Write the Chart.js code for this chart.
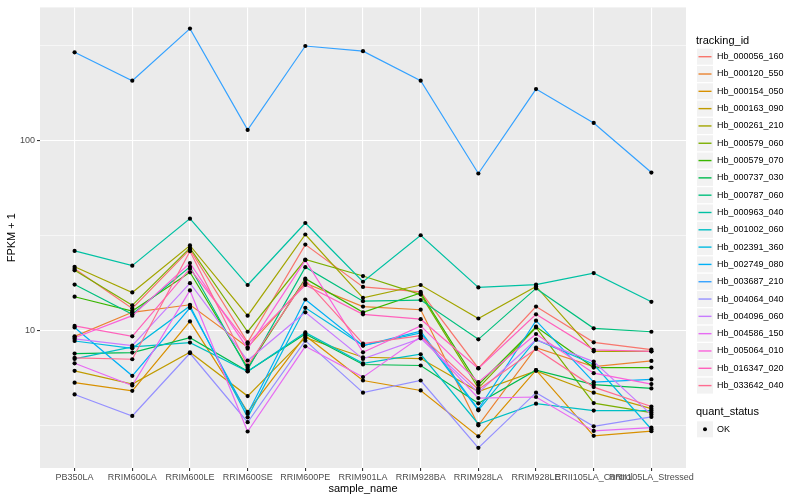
<!DOCTYPE html>
<html>
<head>
<meta charset="utf-8">
<script src="https://cdn.jsdelivr.net/npm/chart.js@4.4.1/dist/chart.umd.min.js"></script>
<style>
  html, body { margin: 0; padding: 0; background: #fff; }
  #wrap { width: 800px; height: 500px; }
</style>
</head>
<body>
<div id="wrap"><canvas id="chart" width="800" height="500"></canvas></div>
<script>
// Categories (x axis)
const sampleNames = ['PB350LA', 'RRIM600LA', 'RRIM600LE', 'RRIM600SE', 'RRIM600PE', 'RRIM901LA',
    'RRIM928BA', 'RRIM928LA', 'RRIM928LE', 'RRII105LA_Control', 'RRII105LA_Stressed'];

const trackingIds = ['Hb_000056_160', 'Hb_000120_550', 'Hb_000154_050', 'Hb_000163_090', 'Hb_000261_210',
    'Hb_000579_060', 'Hb_000579_070', 'Hb_000737_030', 'Hb_000787_060', 'Hb_000963_040',
    'Hb_001002_060', 'Hb_002391_360', 'Hb_002749_080', 'Hb_003687_210', 'Hb_004064_040',
    'Hb_004096_060', 'Hb_004586_150', 'Hb_005064_010', 'Hb_016347_020', 'Hb_033642_040'];

// FPKM + 1, one value per sample
const hb000056_160 = [21.2, 13.1, 26.8, 8.69, 28.4, 17.0, 16.0, 6.35, 13.4, 8.69, 7.96];
const hb000120_550 = [9.34, 12.5, 13.7, 8.18, 17.8, 13.4, 12.9, 3.18, 8.15, 6.48, 6.94];
const hb000154_050 = [5.33, 4.83, 11.2, 3.74, 9.42, 5.47, 4.85, 2.78, 6.20, 2.80, 2.96];
const hb000163_090 = [6.15, 5.24, 7.70, 4.53, 9.19, 7.25, 7.14, 4.79, 6.15, 4.72, 3.89];
const hb000261_210 = [21.7, 15.9, 28.1, 12.0, 32.1, 14.9, 17.4, 11.6, 17.1, 7.79, 7.79];
const hb000579_060 = [20.8, 13.6, 27.3, 9.88, 23.7, 19.4, 15.5, 4.99, 10.4, 4.16, 3.71];
const hb000579_070 = [15.1, 12.7, 20.3, 6.38, 18.8, 12.5, 15.8, 5.20, 10.5, 6.40, 6.40];
const hb000737_030 = [7.58, 7.67, 9.19, 6.12, 9.61, 6.64, 6.56, 4.15, 6.20, 5.20, 4.97];
const hb000787_060 = [17.5, 12.2, 21.7, 6.25, 21.6, 14.3, 14.5, 9.01, 16.7, 10.3, 9.88];
const hb000963_040 = [26.3, 22.0, 38.9, 17.4, 36.9, 18.1, 31.8, 16.9, 17.5, 20.1, 14.2];
const hb001002_060 = [7.11, 8.22, 8.66, 6.10, 9.80, 6.74, 7.52, 3.23, 4.13, 3.80, 3.80];
const hb002391_360 = [8.83, 8.08, 13.5, 3.50, 13.2, 8.35, 9.73, 3.81, 8.97, 6.66, 3.03];
const hb002749_080 = [10.4, 5.79, 13.2, 3.66, 14.6, 8.35, 9.96, 3.86, 11.3, 5.36, 5.54];
const hb003687_210 = [292, 207, 389, 114, 315, 296, 207, 67.2, 187, 124, 68.0];
const hb004064_040 = [4.62, 3.56, 7.61, 3.30, 8.87, 4.72, 5.47, 2.42, 4.72, 3.14, 3.52];
const hb004096_060 = [9.05, 8.35, 17.8, 6.97, 12.5, 7.11, 9.12, 4.72, 8.97, 6.88, 3.62];
const hb004586_150 = [6.74, 5.15, 16.3, 2.95, 8.28, 5.70, 9.30, 4.42, 4.48, 2.97, 3.09];
const hb005064_010 = [9.19, 12.0, 22.7, 8.05, 23.5, 7.70, 10.6, 5.36, 9.61, 5.98, 5.24];
const hb016347_020 = [10.6, 9.34, 21.2, 8.55, 17.4, 12.2, 11.5, 6.33, 12.2, 7.93, 7.79];
const hb033642_040 = [7.20, 7.08, 26.2, 6.56, 18.5, 8.55, 9.42, 4.91, 8.02, 5.05, 3.99];

const seriesValues = [hb000056_160, hb000120_550, hb000154_050, hb000163_090, hb000261_210,
    hb000579_060, hb000579_070, hb000737_030, hb000787_060, hb000963_040,
    hb001002_060, hb002391_360, hb002749_080, hb003687_210, hb004064_040,
    hb004096_060, hb004586_150, hb005064_010, hb016347_020, hb033642_040];

// y axis: labelled breaks and the minor grid breaks (log10 midpoints)
const yMajorTicks = [10, 100];
const yTickLabels = ['10', '100'];
const yMinorTicks = [3.1623, 31.623, 316.23];

const quantStatus = ['OK'];

// ggplot default hue palette, 20 levels
const seriesColors = ['#F8766D', '#EA8331', '#D89000', '#C09B00', '#A3A500', '#7CAE00', '#39B600',
    '#00BB4E', '#00BF7D', '#00C1A3', '#00BFC4', '#00BAE0', '#00B0F6', '#35A2FF', '#9590FF',
    '#C77CFF', '#E76BF3', '#FA62DB', '#FF62BC', '#FF6C91'];

const FONT = '"Liberation Sans", Arial, Helvetica, sans-serif';

/**
 * Grey panel background, axis titles and the ggplot style legend
 */
const ggTheme = {
    id: 'ggTheme',
    beforeDraw(chart) {
        const { ctx, chartArea: a } = chart;
        ctx.save();
        ctx.fillStyle = '#ffffff';
        ctx.fillRect(0, 0, chart.width, chart.height);
        ctx.fillStyle = '#EBEBEB';
        ctx.fillRect(a.left, a.top, a.right - a.left, a.bottom - a.top);
        ctx.restore();
    },
    afterDraw(chart) {
        const { ctx, chartArea: a } = chart;
        ctx.save();
        ctx.fillStyle = '#000';
        ctx.textBaseline = 'middle';

        // axis titles
        ctx.font = '11px ' + FONT;
        ctx.textAlign = 'center';
        ctx.fillText('sample_name', (a.left + a.right) / 2, 489);
        ctx.save();
        ctx.translate(12, (a.top + a.bottom) / 2);
        ctx.rotate(-Math.PI / 2);
        ctx.fillText('FPKM + 1', 0, 0);
        ctx.restore();

        // legend: tracking_id
        const lx = 697;
        const step = 17.31;
        ctx.textAlign = 'left';
        ctx.font = '11px ' + FONT;
        ctx.fillText('tracking_id', lx - 1, 40.7);
        ctx.font = '9px ' + FONT;
        trackingIds.forEach((id, i) => {
            const cy = 56.7 + i * step;
            ctx.fillStyle = '#F2F2F2';
            ctx.fillRect(lx, cy - 8, 16, 16);
            ctx.strokeStyle = seriesColors[i];
            ctx.lineWidth = 1.4;
            ctx.beginPath();
            ctx.moveTo(lx + 1.5, cy);
            ctx.lineTo(lx + 14.5, cy);
            ctx.stroke();
            ctx.fillStyle = '#000';
            ctx.fillText(id, lx + 20, cy);
        });

        // legend: quant_status
        ctx.font = '11px ' + FONT;
        ctx.fillText('quant_status', lx - 1, 412.3);
        ctx.font = '9px ' + FONT;
        quantStatus.forEach((s, i) => {
            const cy = 429.3 + i * step;
            ctx.fillStyle = '#F2F2F2';
            ctx.fillRect(lx, cy - 8, 16, 16);
            ctx.fillStyle = '#000';
            ctx.beginPath();
            ctx.arc(lx + 8, cy, 2, 0, Math.PI * 2);
            ctx.fill();
            ctx.fillText(s, lx + 20, cy);
        });
        ctx.restore();
    }
};

// Lines, first level drawn at the bottom like ggplot
const lineDatasets = seriesValues.map((vals, i) => ({
    label: trackingIds[i],
    data: vals.map((v, j) => ({ x: j, y: v })),
    borderColor: seriesColors[i],
    borderWidth: 1.2,
    pointRadius: 0,
    fill: false,
    tension: 0,
    order: seriesValues.length - i
}));

// All points on top of all lines
const pointDataset = {
    label: 'quant_status',
    type: 'scatter',
    data: seriesValues.flatMap(vals => vals.map((v, j) => ({ x: j, y: v }))),
    showLine: false,
    pointRadius: 2.1,
    pointBackgroundColor: '#000',
    pointBorderWidth: 0,
    order: 0
};

const isMajor = v => yMajorTicks.some(m => Math.abs(m - v) < 1e-6);

new Chart(document.getElementById('chart'), {
    type: 'line',
    data: { datasets: [pointDataset, ...lineDatasets] },
    plugins: [ggTheme],
    options: {
        responsive: false,
        animation: false,
        devicePixelRatio: 1,
        events: [],
        layout: { padding: { top: 5, right: 114, bottom: 0, left: 0 } },
        plugins: {
            legend: { display: false },
            tooltip: { enabled: false }
        },
        scales: {
            x: {
                type: 'linear',
                min: -0.6,
                max: 10.6,
                afterBuildTicks: axis => {
                    axis.ticks = sampleNames.map((_, i) => ({ value: i }));
                },
                afterFit: axis => { axis.height = 32; },
                grid: {
                    color: '#ffffff',
                    lineWidth: 1.1,
                    tickColor: '#333333',
                    tickLength: 3,
                    drawOnChartArea: true
                },
                border: { display: false },
                ticks: {
                    autoSkip: false,
                    maxRotation: 0,
                    minRotation: 0,
                    padding: 1,
                    color: '#4D4D4D',
                    font: { family: FONT, size: 9 },
                    callback: v => sampleNames[v] ?? ''
                }
            },
            y: {
                type: 'logarithmic',
                min: 1.895,
                max: 503,
                afterBuildTicks: axis => {
                    axis.ticks = [...yMinorTicks, ...yMajorTicks]
                        .sort((p, q) => p - q)
                        .map(v => ({ value: v }));
                },
                afterFit: axis => { axis.width = 40; },
                grid: {
                    color: '#ffffff',
                    lineWidth: ctx => isMajor(ctx.tick.value) ? 1.1 : 0.55,
                    tickColor: ctx => isMajor(ctx.tick.value) ? '#333333' : 'rgba(0,0,0,0)',
                    tickLength: 3
                },
                border: { display: false },
                ticks: {
                    padding: 2,
                    color: '#4D4D4D',
                    font: { family: FONT, size: 9 },
                    callback: v => {
                        const k = yMajorTicks.findIndex(m => Math.abs(m - v) < 1e-6);
                        return k >= 0 ? yTickLabels[k] : '';
                    }
                }
            }
        }
    }
});
</script>
</body>
</html>
